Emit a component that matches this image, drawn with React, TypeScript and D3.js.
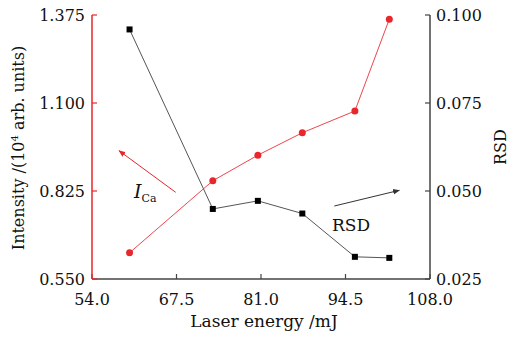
import React from "react";
import * as d3 from "d3";

const energy = [60, 73.3, 80.5, 87.6, 96, 101.5];
const intensity = [0.632, 0.857, 0.937, 1.007, 1.075, 1.362];
const rsd = [0.0959, 0.0449, 0.0472, 0.0436, 0.0313, 0.031];
const xTicks = [54.0, 67.5, 81.0, 94.5, 108.0];
const yLeftTicks = [0.55, 0.825, 1.1, 1.375];
const yRightTicks = [0.025, 0.05, 0.075, 0.1];

const W = 521, H = 338;
const M = { left: 92, right: 430, top: 15, bottom: 279 };
const FONT = "'DejaVu Serif', 'Liberation Serif', serif";
const RED = "#e8262b";
const DARK = "#333";

export default function App() {
  const x = d3.scaleLinear().domain([54, 108]).range([M.left, M.right]);
  const yL = d3.scaleLinear().domain([0.55, 1.375]).range([M.bottom, M.top]);
  const yR = d3.scaleLinear().domain([0.025, 0.1]).range([M.bottom, M.top]);
  const redPts: [number, number][] = energy.map((e, i) => [x(e), yL(intensity[i])]);
  const blkPts: [number, number][] = energy.map((e, i) => [x(e), yR(rsd[i])]);
  const line = d3.line();
  const tl = 5;
  return (
    <svg width={W} height={H} style={{ position: "absolute", left: 0, top: 0, background: "#fff" }} fontFamily={FONT}>
      <defs>
        <marker id="ahR" viewBox="0 0 10 10" refX="9" refY="5" markerWidth="7" markerHeight="7" orient="auto">
          <path d="M0,1 L10,5 L0,9 Z" fill={RED} />
        </marker>
        <marker id="ahK" viewBox="0 0 10 10" refX="9" refY="5" markerWidth="7" markerHeight="7" orient="auto">
          <path d="M0,1 L10,5 L0,9 Z" fill={DARK} />
        </marker>
      </defs>
      {/* bottom axis */}
      <line x1={M.left} x2={M.right} y1={M.bottom} y2={M.bottom} stroke="#444" strokeWidth={1.5} />
      {xTicks.map((t) => (
        <g key={t}>
          <line x1={x(t)} x2={x(t)} y1={M.bottom} y2={M.bottom - tl} stroke="#444" strokeWidth={1.2} />
          <text x={x(t)} y={305} textAnchor="middle" fontSize={16} fill="#111">{t.toFixed(1)}</text>
        </g>
      ))}
      <text x={(M.left + M.right) / 2 + 3} y={327} textAnchor="middle" fontSize={17} fill="#111">Laser energy /mJ</text>
      {/* left axis */}
      <line x1={M.left} x2={M.left} y1={M.top} y2={M.bottom} stroke={RED} strokeWidth={1.5} />
      {yLeftTicks.map((t) => (
        <g key={t}>
          <line x1={M.left} x2={M.left + tl} y1={yL(t)} y2={yL(t)} stroke={RED} strokeWidth={1.2} />
          <text x={85} y={yL(t) + 6} textAnchor="end" fontSize={16} fill="#111">{t.toFixed(3)}</text>
        </g>
      ))}
      <text transform={`translate(24,${(M.top + M.bottom) / 2 + 1}) rotate(-90)`} textAnchor="middle" fontSize={16} fill="#111">
        Intensity /(10<tspan dy={-6} fontSize={10}>4</tspan><tspan dy={6}> arb. units)</tspan>
      </text>
      {/* right axis */}
      <line x1={M.right} x2={M.right} y1={M.top} y2={M.bottom} stroke="#444" strokeWidth={1.5} />
      {yRightTicks.map((t) => (
        <g key={t}>
          <line x1={M.right} x2={M.right - tl} y1={yR(t)} y2={yR(t)} stroke="#444" strokeWidth={1.2} />
          <text x={436} y={yR(t) + 6} textAnchor="start" fontSize={16} fill="#111">{t.toFixed(3)}</text>
        </g>
      ))}
      <text transform={`translate(506,${(M.top + M.bottom) / 2}) rotate(-90)`} textAnchor="middle" fontSize={16} fill="#111">RSD</text>
      {/* series */}
      <path d={line(blkPts) || ""} fill="none" stroke="#555" strokeWidth={1} />
      <path d={line(redPts) || ""} fill="none" stroke={RED} strokeWidth={1} opacity={0.85} />
      {blkPts.map((p, i) => (
        <rect key={i} x={p[0] - 3} y={p[1] - 3} width={6} height={6} fill="#000" />
      ))}
      {redPts.map((p, i) => (
        <circle key={i} cx={p[0]} cy={p[1]} r={3.5} fill={RED} />
      ))}
      {/* annotations */}
      <line x1={175.7} y1={192.3} x2={119} y2={150.7} stroke={RED} strokeWidth={1} markerEnd="url(#ahR)" />
      <text x={134} y={198} fontSize={19} fontStyle="italic" fill="#111">I<tspan fontSize={11} fontStyle="normal" dy={4}>Ca</tspan></text>
      <line x1={334.3} y1={206} x2={399.3} y2={190.3} stroke={DARK} strokeWidth={1} markerEnd="url(#ahK)" />
      <text x={332} y={231} fontSize={17} fill="#111">RSD</text>
    </svg>
  );
}
